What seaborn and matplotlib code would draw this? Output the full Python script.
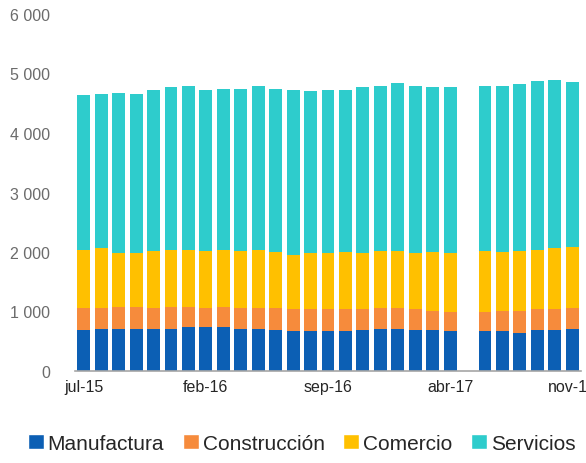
import numpy as np
import pandas as pd
import matplotlib.pyplot as plt
import seaborn as sns
from matplotlib.patches import Patch

# Meses jul-15 a nov-17 (may-17 sin dato)
meses = ["jul-15", "ago-15", "sep-15", "oct-15", "nov-15", "dic-15",
         "ene-16", "feb-16", "mar-16", "abr-16", "may-16", "jun-16",
         "jul-16", "ago-16", "sep-16", "oct-16", "nov-16", "dic-16",
         "ene-17", "feb-17", "mar-17", "abr-17", "may-17", "jun-17",
         "jul-17", "ago-17", "sep-17", "oct-17", "nov-17"]

manufactura = [690, 710, 710, 710, 710, 710, 735, 735, 735, 710, 710, 690,
               670, 670, 670, 670, 690, 710, 710, 690, 690, 670, np.nan, 670,
               670, 645, 690, 690, 710]
construccion = [370, 350, 370, 370, 350, 370, 345, 325, 345, 345, 345, 370,
                370, 370, 370, 370, 345, 345, 345, 345, 325, 320, np.nan, 320,
                345, 370, 345, 345, 350]
comercio = [980, 1000, 910, 910, 955, 955, 955, 955, 955, 955, 980, 935,
            910, 935, 935, 955, 955, 955, 955, 955, 980, 1000, np.nan, 1025,
            980, 1000, 1000, 1025, 1025]
servicios = [2600, 2595, 2685, 2665, 2705, 2730, 2755, 2705, 2710, 2730, 2755, 2750,
             2775, 2730, 2750, 2730, 2775, 2780, 2825, 2800, 2775, 2775, np.nan, 2780,
             2800, 2805, 2845, 2825, 2780]

tick_labels = ["jul-15", "feb-16", "sep-16", "abr-17", "nov-17"]

series = ["Manufactura", "Construcción", "Comercio", "Servicios"]
colores = ["#0C5FB4", "#F68B3C", "#FFC000", "#2ECCCC"]

df = pd.DataFrame({"mes": meses, "Manufactura": manufactura,
                   "Construcción": construccion, "Comercio": comercio,
                   "Servicios": servicios})
cum = df[series].cumsum(axis=1)
cum["mes"] = df["mes"]

sns.set_style("white")
plt.rcParams["font.family"] = ["Liberation Sans", "DejaVu Sans"]

fig = plt.figure(figsize=(5.86, 4.64), dpi=100)
ax = fig.add_axes([75 / 586, 92 / 464, 506 / 586, 357 / 464])

# barras apiladas: dibujar acumulados de mayor a menor
for s, c in reversed(list(zip(series, colores))):
    sns.barplot(data=cum, x="mes", y=s, order=meses, color=c,
                width=0.74, errorbar=None, saturation=1, ax=ax,
                edgecolor="none")

ax.set_ylim(0, 6000)
ax.set_xlim(-0.5, len(meses) - 0.5)
ax.set_yticks(range(0, 6001, 1000))
ax.set_yticklabels([f"{v:,}".replace(",", " ") for v in range(0, 6001, 1000)],
                   color="#6B6B6B", fontsize=11.5)
ax.set_xticks([meses.index(t) for t in tick_labels])
ax.set_xticklabels(tick_labels, fontsize=11.5, color="#262626")
ax.tick_params(axis="both", length=0, pad=6)
ax.tick_params(axis="y", pad=18)
ax.set_xlabel("")
ax.set_ylabel("")
for side in ["top", "right", "left"]:
    ax.spines[side].set_visible(False)
ax.spines["bottom"].set_color("#A6A6A6")
ax.spines["bottom"].set_linewidth(1.2)

handles = [Patch(facecolor=c, label=s) for s, c in zip(series, colores)]
fig.legend(handles=handles, loc="center", bbox_to_anchor=(0.515, 0.042),
           ncol=4, frameon=False, fontsize=15, handlelength=0.75,
           handleheight=0.75, handletextpad=0.2, columnspacing=0.9)

fig.savefig("out.png", dpi=100)
